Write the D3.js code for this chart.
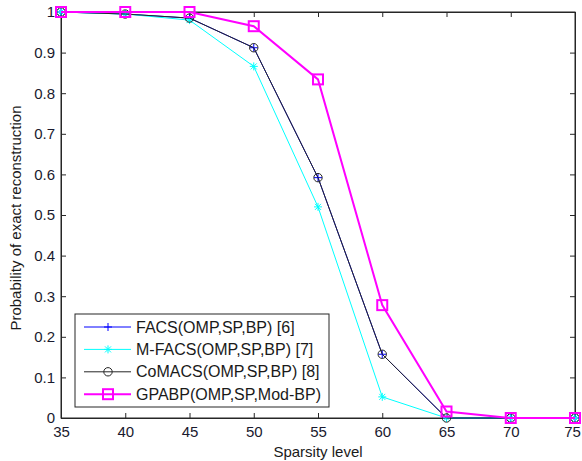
<!DOCTYPE html>
<html>
<head>
<meta charset="utf-8">
<script src="https://cdn.jsdelivr.net/npm/d3@7"></script>
<style>
  body { margin: 0; background: #fff; }
  svg { display: block; font-family: "Liberation Sans", Arial, sans-serif; }
</style>
</head>
<body>
<div id="chart"></div>
<script>
// data
const sparsity = [35, 40, 45, 50, 55, 60, 65, 70, 75];
const facs   = [1, 0.995, 0.985, 0.912, 0.592, 0.157, 0, 0, 0];
const mfacs  = [1, 0.995, 0.98, 0.866, 0.52, 0.052, 0, 0, 0];
const comacs = [1, 0.995, 0.985, 0.912, 0.592, 0.157, 0, 0, 0];
const gpabp  = [1, 1, 1, 0.965, 0.834, 0.278, 0.016, 0, 0];
const seriesNames = ["FACS(OMP,SP,BP) [6]", "M-FACS(OMP,SP,BP) [7]", "CoMACS(OMP,SP,BP) [8]", "GPABP(OMP,SP,Mod-BP)"];
const xTicks = [35, 40, 45, 50, 55, 60, 65, 70, 75];
const yTicks = [0, 0.1, 0.2, 0.3, 0.4, 0.5, 0.6, 0.7, 0.8, 0.9, 1];

const width = 582, height = 461;
const margin = { left: 61, right: 7, top: 12, bottom: 43 };

const svg = d3.select("#chart").append("svg")
    .attr("width", width)
    .attr("height", height);

const x = d3.scaleLinear().domain([35, 75]).range([margin.left, width - margin.right]);
const y = d3.scaleLinear().domain([0, 1]).range([height - margin.bottom, margin.top]);

const axisColor = "#262626";
const tickLen = 5;

// box
svg.append("rect")
    .attr("x", x(35)).attr("y", y(1))
    .attr("width", x(75) - x(35)).attr("height", y(0) - y(1))
    .attr("fill", "#fff").attr("stroke", axisColor).attr("stroke-width", 1);

// axes with inward ticks on all four sides
const fmtY = d => d === 0 ? "0" : d === 1 ? "1" : d3.format(".1f")(d);

const axBottom = svg.append("g")
    .attr("transform", `translate(0,${y(0)})`)
    .call(d3.axisBottom(x).tickValues(xTicks).tickSize(-tickLen).tickPadding(8));
const axLeft = svg.append("g")
    .attr("transform", `translate(${x(35)},0)`)
    .call(d3.axisLeft(y).tickValues(yTicks).tickFormat(fmtY).tickSize(-tickLen).tickPadding(6));
const axTop = svg.append("g")
    .attr("transform", `translate(0,${y(1)})`)
    .call(d3.axisTop(x).tickValues(xTicks).tickSize(-tickLen).tickFormat(""));
const axRight = svg.append("g")
    .attr("transform", `translate(${x(75)},0)`)
    .call(d3.axisRight(y).tickValues(yTicks).tickSize(-tickLen).tickFormat(""));

[axBottom, axLeft, axTop, axRight].forEach(g => {
    g.select(".domain").attr("stroke", axisColor);
    g.selectAll(".tick line").attr("stroke", axisColor);
    g.selectAll(".tick text").attr("fill", "#1a1a2e").style("font-size", "15px");
});
axBottom.selectAll(".tick text").attr("dy", "0.71em");
// keep the last label inside the window
axBottom.selectAll(".tick text").filter(d => d === 75).attr("dx", -3);

// axis labels
svg.append("text")
    .attr("x", (x(35) + x(75)) / 2).attr("y", 457)
    .attr("text-anchor", "middle")
    .style("font-size", "15px").attr("fill", "#1a1a1a")
    .text("Sparsity level");

svg.append("text")
    .attr("transform", `translate(21,${(y(0) + y(1)) / 2 + 3}) rotate(-90)`)
    .attr("text-anchor", "middle")
    .style("font-size", "15px").attr("fill", "#1a1a1a")
    .text("Probability of exact reconstruction");

// marker drawing helpers
function drawMarker(g, type, color, cx, cy) {
    if (type === "plus") {
        g.append("path").attr("d", `M${cx - 4},${cy}H${cx + 4}M${cx},${cy - 4}V${cy + 4}`)
            .attr("stroke", color).attr("stroke-width", 1).attr("fill", "none");
    } else if (type === "star") {
        g.append("path").attr("d", `M${cx - 4},${cy}H${cx + 4}M${cx},${cy - 4}V${cy + 4}M${cx - 3},${cy - 3}L${cx + 3},${cy + 3}M${cx - 3},${cy + 3}L${cx + 3},${cy - 3}`)
            .attr("stroke", color).attr("stroke-width", 1).attr("fill", "none");
    } else if (type === "circle") {
        g.append("circle").attr("cx", cx).attr("cy", cy).attr("r", 4.2)
            .attr("stroke", color).attr("stroke-width", 1).attr("fill", "none");
    } else if (type === "square") {
        g.append("rect").attr("x", cx - 5).attr("y", cy - 5).attr("width", 10).attr("height", 10)
            .attr("stroke", color).attr("stroke-width", 2).attr("fill", "none");
    }
}

const series = [
    { name: seriesNames[0], values: facs, color: "#0000ff", marker: "plus", lw: 1 },
    { name: seriesNames[1], values: mfacs, color: "#00ffff", marker: "star", lw: 1 },
    { name: seriesNames[2], values: comacs, color: "#262626", marker: "circle", lw: 1 },
    { name: seriesNames[3], values: gpabp, color: "#ff00ff", marker: "square", lw: 2 }
];

const line = d3.line().x(d => x(d[0])).y(d => y(d[1]));

series.forEach(s => {
    const pts = sparsity.map((v, i) => [v, s.values[i]]);
    const g = svg.append("g");
    g.append("path")
        .attr("d", line(pts))
        .attr("fill", "none")
        .attr("stroke", s.color)
        .attr("stroke-width", s.lw);
    pts.forEach(p => drawMarker(g, s.marker, s.color, x(p[0]), y(p[1])));
});

// legend
const legend = svg.append("g");
legend.append("rect")
    .attr("x", 75).attr("y", 314).attr("width", 254).attr("height", 93)
    .attr("fill", "#fff").attr("stroke", axisColor).attr("stroke-width", 1);

series.forEach((s, i) => {
    const ly = 327 + i * 22.4;
    legend.append("line")
        .attr("x1", 84).attr("x2", 131).attr("y1", ly).attr("y2", ly)
        .attr("stroke", s.color).attr("stroke-width", s.lw);
    drawMarker(legend, s.marker, s.color, 108, ly);
    legend.append("text")
        .attr("x", 136).attr("y", ly).attr("dy", "0.35em")
        .style("font-size", "16px").attr("fill", "#1a1a1a")
        .text(s.name);
});
</script>
</body>
</html>
